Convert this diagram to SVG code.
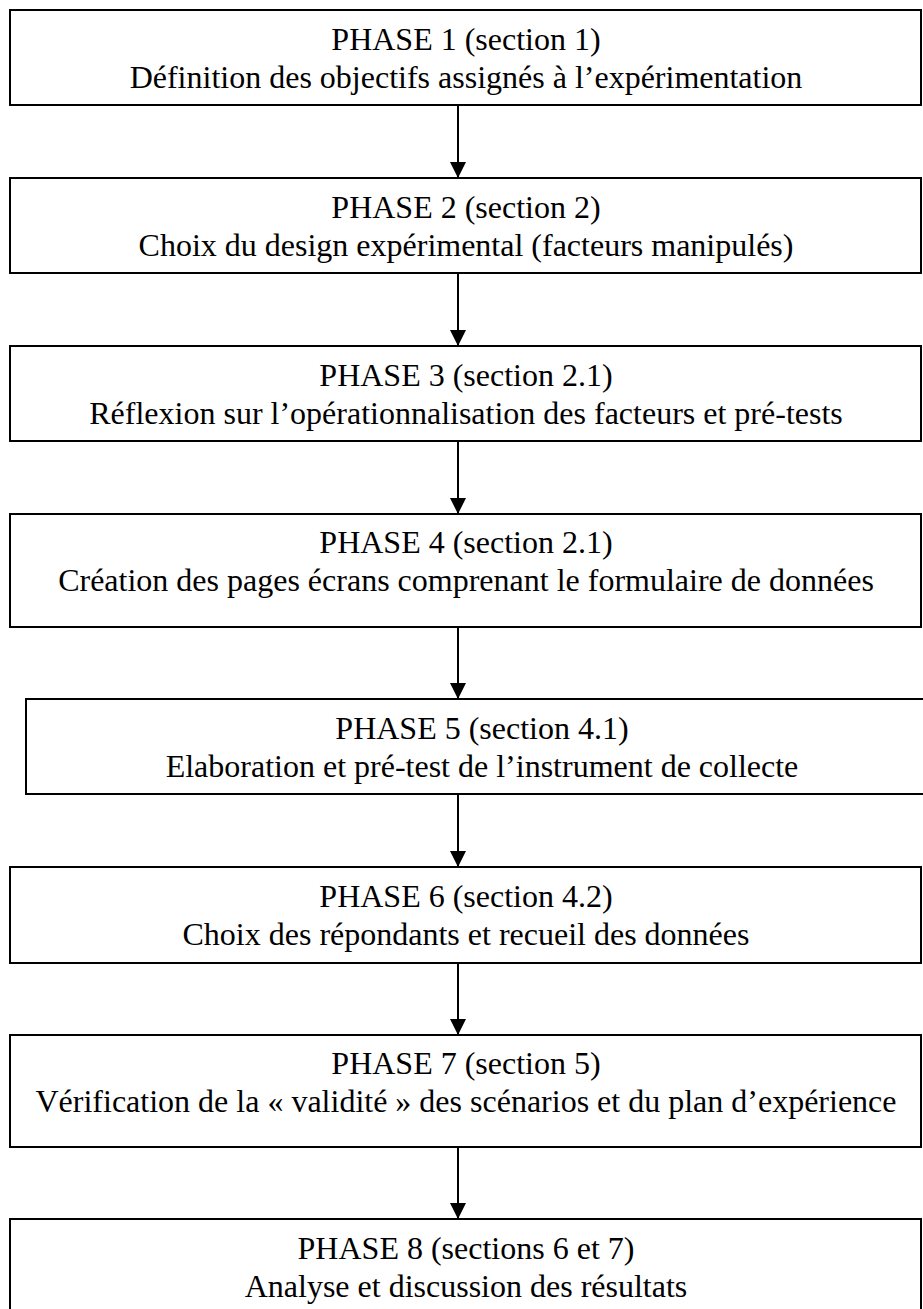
<svg xmlns="http://www.w3.org/2000/svg" width="923" height="1309" viewBox="0 0 923 1309">
<style>
.box{fill:#fff;stroke:#000;stroke-width:2}
.t{font-family:"Liberation Serif","Times New Roman",serif;font-size:32px;fill:#000;text-anchor:middle}
.c{stroke:#000;stroke-width:2;fill:none}
</style>
<defs>
<marker id="ah" markerUnits="userSpaceOnUse" markerWidth="16" markerHeight="18" refX="16" refY="8" orient="auto" viewBox="0 0 16 16">
<path d="M0,0 L16,8 L0,16 Z" fill="#000"/>
</marker>
</defs>
<rect width="923" height="1309" fill="#fff"/>
<g id="connectors">
<line class="c" x1="458" y1="105" x2="458" y2="178" marker-end="url(#ah)"/>
<line class="c" x1="458" y1="273" x2="458" y2="346" marker-end="url(#ah)"/>
<line class="c" x1="458" y1="441" x2="458" y2="514" marker-end="url(#ah)"/>
<line class="c" x1="458" y1="627" x2="458" y2="699" marker-end="url(#ah)"/>
<line class="c" x1="458" y1="794" x2="458" y2="867" marker-end="url(#ah)"/>
<line class="c" x1="458" y1="963" x2="458" y2="1035" marker-end="url(#ah)"/>
<line class="c" x1="458" y1="1147" x2="458" y2="1219" marker-end="url(#ah)"/>
</g>
<g id="phase1"><rect class="box" x="10" y="10" width="911" height="95"/>
<text class="t" x="466" y="50">PHASE 1 (section 1)</text>
<text class="t" x="466" y="88">Définition des objectifs assignés à l’expérimentation</text></g>
<g id="phase2"><rect class="box" x="10" y="178" width="911" height="95"/>
<text class="t" x="466" y="218">PHASE 2 (section 2)</text>
<text class="t" x="466" y="256">Choix du design expérimental (facteurs manipulés)</text></g>
<g id="phase3"><rect class="box" x="10" y="346" width="911" height="95"/>
<text class="t" x="466" y="386">PHASE 3 (section 2.1)</text>
<text class="t" x="466" y="424">Réflexion sur l’opérationnalisation des facteurs et pré-tests</text></g>
<g id="phase4"><rect class="box" x="10" y="514" width="911" height="113"/>
<text class="t" x="466" y="553">PHASE 4 (section 2.1)</text>
<text class="t" x="466" y="591">Création des pages écrans comprenant le formulaire de données</text></g>
<g id="phase5"><rect class="box" x="26" y="699" width="913" height="95"/>
<text class="t" x="482" y="739">PHASE 5 (section 4.1)</text>
<text class="t" x="482" y="777">Elaboration et pré-test de l’instrument de collecte</text></g>
<g id="phase6"><rect class="box" x="10" y="867" width="911" height="96"/>
<text class="t" x="466" y="907">PHASE 6 (section 4.2)</text>
<text class="t" x="466" y="945">Choix des répondants et recueil des données</text></g>
<g id="phase7"><rect class="box" x="10" y="1035" width="911" height="112"/>
<text class="t" x="466" y="1074">PHASE 7 (section 5)</text>
<text class="t" x="466" y="1112">Vérification de la « validité » des scénarios et du plan d’expérience</text></g>
<g id="phase8"><rect class="box" x="10" y="1219" width="911" height="110"/>
<text class="t" x="466" y="1259">PHASE 8 (sections 6 et 7)</text>
<text class="t" x="466" y="1297">Analyse et discussion des résultats</text></g>
</svg>
